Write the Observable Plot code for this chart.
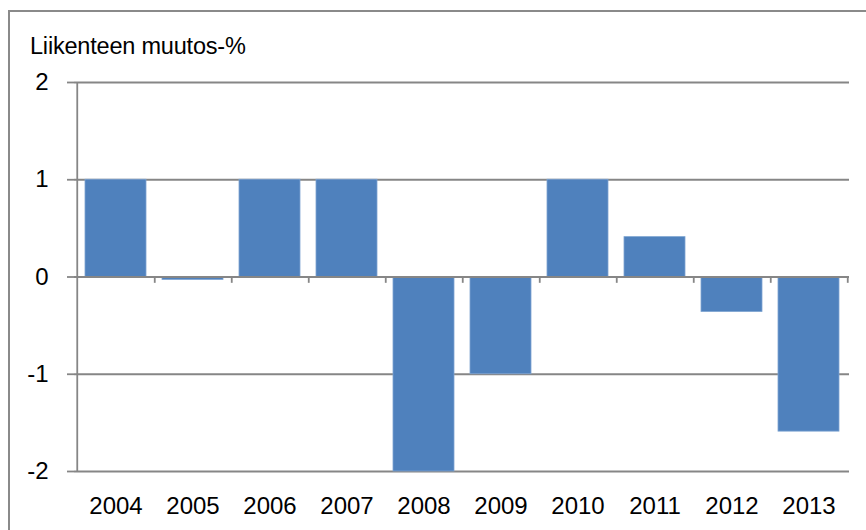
<!DOCTYPE html>
<html>
<head>
<meta charset="utf-8">
<script src="https://cdn.jsdelivr.net/npm/d3@7"></script>
<script src="https://cdn.jsdelivr.net/npm/@observablehq/plot@0.6"></script>
<style>
  html, body { margin: 0; padding: 0; background: #fff; }
  #wrap { position: relative; width: 866px; height: 530px; overflow: hidden; font-family: "Liberation Sans", Arial, sans-serif; }
  #frame { position: absolute; left: 8px; top: 10px; width: 900px; height: 600px; border-left: 2px solid #8a8a8a; border-top: 2px solid #8a8a8a; }
  #title { position: absolute; left: 30px; top: 33px; font-size: 23.5px; color: #000; letter-spacing: -0.2px; }
  #chart { position: absolute; left: 0; top: 0; }
</style>
</head>
<body>
<div id="wrap">
  <div id="frame"></div>
  <div id="chart"></div>
  <div id="title">Liikenteen muutos-%</div>
</div>
<script>
const years = ["2004", "2005", "2006", "2007", "2008", "2009", "2010", "2011", "2012", "2013"];
const changes = [1.0, -0.03, 1.0, 1.0, -2.0, -1.0, 1.0, 0.41, -0.36, -1.59];
const yTicks = [-2, -1, 0, 1, 2];

const data = years.map((y, i) => ({year: y, value: changes[i]}));

const width = 866, height = 530;
const mL = 74, mR = 17, mT = 82, mB = 59;
const step = (width - mL - mR) / years.length;
const grey = "#868686";

const chart = Plot.plot({
  width, height,
  marginLeft: mL, marginRight: mR, marginTop: mT, marginBottom: mB,
  style: {fontFamily: "'Liberation Sans', Arial, sans-serif", fontSize: "24px", color: "#000", background: "transparent"},
  x: {domain: years, paddingInner: 0.21, paddingOuter: 0.105, label: null},
  y: {domain: [-2, 2], label: null},
  marks: [
    Plot.gridY(yTicks, {stroke: grey, strokeOpacity: 1, strokeWidth: 1.8}),
    Plot.axisY(yTicks, {tickSize: 7, tickPadding: 19, stroke: grey, strokeWidth: 1.8, fill: "#000", fontSize: 24, label: null, tickFormat: d => String(d)}),
    Plot.ruleX([years[0]], {x: d => d, y1: -2, y2: 2, dx: -step / 2, stroke: grey, strokeWidth: 1.8}),
    Plot.barY(data, {x: "year", y: "value", fill: "#4F81BD", stroke: "#7ea4d1", strokeWidth: 0.8}),
    Plot.ruleY([0], {stroke: grey, strokeWidth: 2.2}),
    Plot.ruleX(years, {x: d => d, y1: 0, y2: -0.065, dx: step / 2, stroke: grey, strokeWidth: 1.8}),
    Plot.axisX({tickSize: 0, tickPadding: 25, fill: "#000", fontSize: 24, label: null})
  ]
});
document.getElementById("chart").appendChild(chart);
</script>
</body>
</html>
